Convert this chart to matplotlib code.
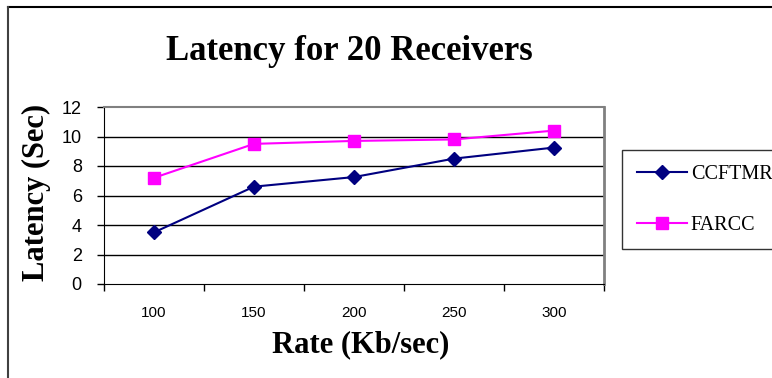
import matplotlib.pyplot as plt
from matplotlib.lines import Line2D

# data
rates = ['100', '150', '200', '250', '300']
ccftmr = [3.5, 6.6, 7.25, 8.5, 9.25]
farcc = [7.2, 9.5, 9.7, 9.8, 10.4]
yticks = [0, 2, 4, 6, 8, 10, 12]

W, H = 772, 378
fig = plt.figure(figsize=(W / 100, H / 100), dpi=100)

# plot area in pixels: x 104..604, y 107..284
ax = fig.add_axes([104 / W, 1 - 284 / H, 500 / W, 177 / H])
x = list(range(len(rates)))
ax.plot(x, ccftmr, color='#000080', marker='D', markersize=7, linewidth=1.5, label='CCFTMR')
ax.plot(x, farcc, color='#FF00FF', marker='s', markersize=9, linewidth=1.5, label='FARCC')

ax.set_xlim(-0.5, len(rates) - 0.5)
ax.set_ylim(0, 12)
ax.set_yticks(yticks)
ax.set_yticklabels([str(v) for v in yticks], fontsize=13, family='Liberation Sans')
ax.set_xticks(x)
ax.set_xticklabels(rates, fontsize=11, family='Liberation Sans')
ax.tick_params(axis='x', length=0, pad=16)
ax.set_xticks([i + 0.5 for i in range(-1, len(rates))], minor=True)
ax.tick_params(axis='x', which='minor', length=5, direction='out', width=1)
ax.tick_params(axis='y', length=5, direction='out', width=1, pad=11)

for v in yticks[1:-1]:
    ax.axhline(v, color='black', linewidth=1, zorder=0)

ax.spines['left'].set_color('black')
ax.spines['bottom'].set_color('black')
ax.spines['top'].set_color('#808080')
ax.spines['right'].set_color('#808080')
ax.spines['top'].set_linewidth(1.5)
ax.spines['right'].set_linewidth(2)

ax.set_xlabel('Rate (Kb/sec)', fontsize=22, fontweight='bold', family='Liberation Serif', va='center')
ax.set_ylabel('Latency (Sec)', fontsize=22, fontweight='bold', family='Liberation Serif', va='center')
ax.xaxis.set_label_coords((361 - 104) / 500, (284 - 345) / 177)
ax.yaxis.set_label_coords((36 - 104) / 500, (284 - 192) / 177)

fig.text(349 / W, 1 - 52 / H, 'Latency for 20 Receivers', ha='center', va='center',
         fontsize=25, fontweight='bold', family='Liberation Serif')

# outer frame (top and left only visible)
fig.add_artist(Line2D([8 / W, 1], [1 - 7 / H, 1 - 7 / H], color='black', linewidth=1.5))
fig.add_artist(Line2D([8 / W, 8 / W], [0, 1 - 7 / H], color='#404040', linewidth=1.5))

# legend runs off the right edge, as in the original
leg = fig.legend(loc='upper left', bbox_to_anchor=(622 / W, 1 - 150 / H), borderaxespad=0,
                 prop={'family': 'Liberation Serif', 'size': 14.5},
                 frameon=True, fancybox=False, edgecolor='black',
                 handlelength=2.5, labelspacing=1.6, borderpad=0.72, handletextpad=0.2)
leg.get_frame().set_linewidth(1)

fig.savefig('out.png', dpi=100)
